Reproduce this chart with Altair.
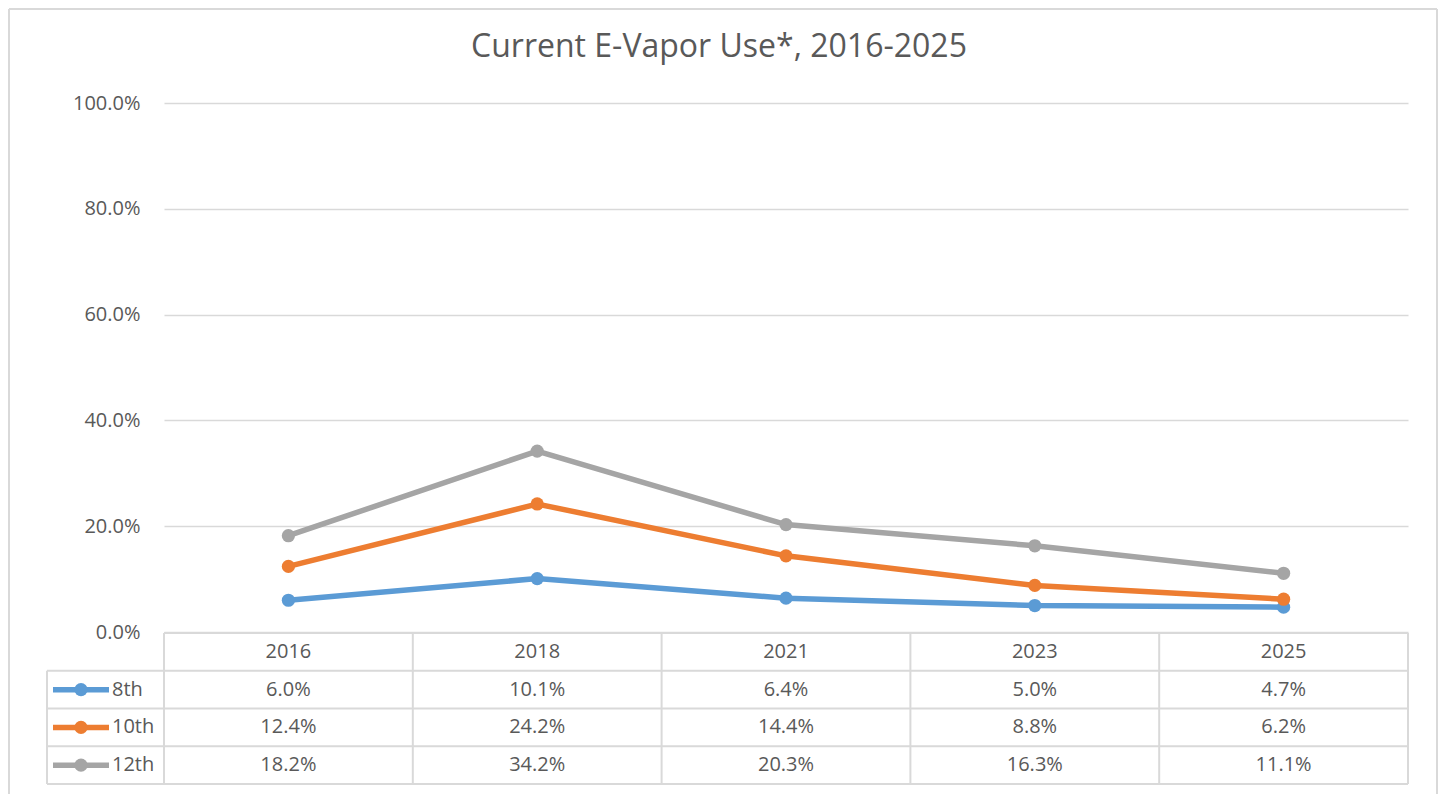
import altair as alt
import pandas as pd

years = ["2016", "2018", "2021", "2023", "2025"]
grades = ["8th", "10th", "12th"]
v8 = [6.0, 10.1, 6.4, 5.0, 4.7]
v10 = [12.4, 24.2, 14.4, 8.8, 6.2]
v12 = [18.2, 34.2, 20.3, 16.3, 11.1]
y_ticks = [0, 20, 40, 60, 80, 100]
colors = ["#5B9BD5", "#ED7D31", "#A5A5A5"]
title_text = "Current E-Vapor Use*, 2016-2025"

W, H = 1244, 529
FONT = "Open Sans"
TXT = "#595959"
GRID = "#D9D9D9"
ROW_H = 37.75  # table row height in pixels
N = len(years)
LW = 5.5
PT = 175


def row_val(r):
    """Table row position (rows below the axis) expressed in y-scale units."""
    return -(1 + ROW_H * r) * 100.0 / H


rows = []
for gi, (g, vals) in enumerate(zip(grades, [v8, v10, v12])):
    for i, (yr, v) in enumerate(zip(years, vals)):
        rows.append({"year": yr, "pos": i + 0.5, "grade": g, "value": v,
                     "label": f"{v:.1f}%", "ty": row_val(gi + 1.5)})
df = pd.DataFrame(rows)

hdr = pd.DataFrame({"year": years, "pos": [i + 0.5 for i in range(N)],
                    "ty": [row_val(0.5)] * N})
leg = pd.DataFrame({"grade": grades, "ty": [row_val(i + 1.5) for i in range(len(grades))]})
vlines = pd.DataFrame({"edge": list(range(N + 1)), "y0": [row_val(0)] * (N + 1),
                       "y1": [row_val(4)] * (N + 1)})
vleg = pd.DataFrame({"y0": [row_val(1)], "y1": [row_val(4)]})
hlines_full = pd.DataFrame({"ty": [row_val(k) for k in [1, 2, 3, 4]]})
hline_top = pd.DataFrame({"ty": [row_val(0)]})

xscale = alt.Scale(domain=[0, N], nice=False, zero=False)
yscale = alt.Scale(domain=[0, 100], nice=False, zero=False)
color = alt.Color("grade:N", sort=grades, legend=None,
                  scale=alt.Scale(domain=grades, range=colors))

base = alt.Chart(df)

lines = base.mark_line(strokeWidth=LW).encode(
    x=alt.X("pos:Q", scale=xscale, axis=None),
    y=alt.Y("value:Q", scale=yscale, title=None,
            axis=alt.Axis(values=y_ticks, labelExpr="format(datum.value, '.1f') + '%'",
                          grid=True, gridColor=GRID, gridWidth=1.5, domain=False,
                          ticks=False, labelPadding=24, labelFont=FONT,
                          labelFontSize=20, labelColor=TXT)),
    color=color,
    detail="grade:N",
)
points = base.mark_circle(size=PT, opacity=1).encode(
    x=alt.X("pos:Q"), y=alt.Y("value:Q"), color=color)

cell_text = base.mark_text(font=FONT, fontSize=20, color=TXT, baseline="middle").encode(
    x=alt.X("pos:Q"), y=alt.Y("ty:Q"), text="label:N")

hdr_text = alt.Chart(hdr).mark_text(font=FONT, fontSize=20, color=TXT, baseline="middle").encode(
    x=alt.X("pos:Q"), y=alt.Y("ty:Q"), text="year:N")

vl = alt.Chart(vlines).mark_rule(color=GRID, strokeWidth=2).encode(
    x=alt.X("edge:Q"), y=alt.Y("y0:Q"), y2="y1:Q")
vl_leg = alt.Chart(vleg).mark_rule(color=GRID, strokeWidth=2).encode(
    x=alt.value(-117), y=alt.Y("y0:Q"), y2="y1:Q")
hl = alt.Chart(hlines_full).mark_rule(color=GRID, strokeWidth=2).encode(
    x=alt.value(-117), x2=alt.value(W), y=alt.Y("ty:Q"))
hl_top = alt.Chart(hline_top).mark_rule(color=GRID, strokeWidth=2).encode(
    x=alt.value(0), x2=alt.value(W), y=alt.Y("ty:Q"))

leg_line = alt.Chart(leg).mark_rule(strokeWidth=LW).encode(
    x=alt.value(-111), x2=alt.value(-55), y=alt.Y("ty:Q"), color=color)
leg_pt = alt.Chart(leg).mark_circle(size=PT, opacity=1).encode(
    x=alt.value(-83), y=alt.Y("ty:Q"), color=color)
leg_txt = alt.Chart(leg).mark_text(font=FONT, fontSize=20, color=TXT, align="left",
                                   baseline="middle").encode(
    x=alt.value(-52), y=alt.Y("ty:Q"), text="grade:N")

title = alt.Chart(pd.DataFrame({"t": [title_text]})).mark_text(
    font=FONT, fontSize=32, color=TXT, baseline="middle").encode(
    x=alt.value(555), y=alt.value(-56), text="t:N")

bd = pd.DataFrame({"t": [0]})
border_l = alt.Chart(bd).mark_rule(color=GRID, strokeWidth=2).encode(
    x=alt.value(-155), y=alt.value(-94), y2=alt.value(720))
border_r = alt.Chart(bd).mark_rule(color=GRID, strokeWidth=2).encode(
    x=alt.value(1273), y=alt.value(-94), y2=alt.value(720))
border_t = alt.Chart(bd).mark_rule(color=GRID, strokeWidth=2).encode(
    x=alt.value(-155), x2=alt.value(1273), y=alt.value(-94))

chart = alt.layer(
    border_l, border_r, border_t, lines, points, vl, vl_leg, hl, hl_top,
    hdr_text, cell_text, leg_line, leg_pt, leg_txt, title
).properties(
    width=W, height=H,
    autosize=alt.AutoSizeParams(type="none"),
    padding={"left": 156, "top": 95, "right": 31, "bottom": 162},
    background="white",
).configure_view(strokeWidth=0)

chart.save("out.html", embed_options={"renderer": "svg", "actions": False})
